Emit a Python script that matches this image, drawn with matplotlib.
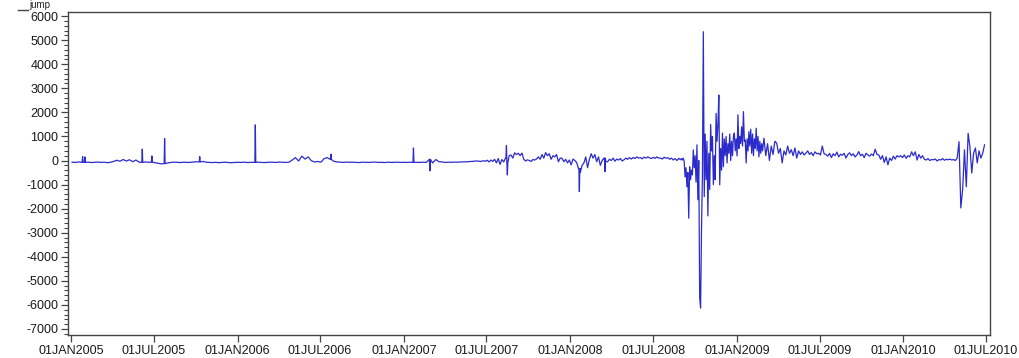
import matplotlib
matplotlib.use("Agg")
import matplotlib.pyplot as plt
from matplotlib.ticker import MultipleLocator, FixedLocator
from matplotlib.lines import Line2D
import pandas as pd

# ---------------- data ----------------
# weekly values, 2005-01-03 .. 2007-06-24
quiet_start = "2005-01-03"
quiet_vals = [
    -70, -80, -60, -75,
    -80, -70, -85, -75, -65, -80, -70, -90, -75,
    -40, 10, -30, 40, -20, 30, -50, 20,
    -70, -80, -60, -75, -70,
    -90, -110, -140, -130, -100,
    -80, -70, -75, -85, -70, -80, -75, -65,
    -50, -60, -40, -70, -80,
    -85, -75, -90, -80, -70, -85, -90, -80,
    # 2006
    -75, -80, -70, -85, -75, -80, -70, -75, -85, -80, -70, -75, -80, -65, -75, -80, -70,
    20, 120, -20, 180, 60, 150, -10,
    -60, -40, -70,
    80, 120, 40, -30,
    -60, -70, -80, -65, -75, -70, -80, -85, -70, -75, -80, -70, -65, -80, -75, -85,
    -70, -80, -75, -70, -80,
    # 2007 H1
    -75, -80, -70, -80,
    -75, -80, -70, -80,
    50, -100, 40, -50, -60,
    -80, -70, -75, -65, -70, -60, -55, -50,
    -40, -30, -20, -40, -10,
]

# every 4 days, 2007-06-29 .. 2008-08-30
unrest_start = "2007-06-29"
unrest_vals = [
    -30, 10, -60, 20, -40,
    50, -100, 80, -160, 40, -60, 100,
    -100, 200,
    230, 100, 320, 250, 300, 200, 310,
    50, -20, 30, 0, -40, 40, 20, 60,
    150, 50, 250, 100, 330, 200, 280, 50, 200, 150, 250, -50, 100,
    90, -50, 50, -100, 20, -180, 60, 0, -80,
    -330, -500, -200,
    -100, 150, -300, 50, 280, 100, 250, -50, 150, -200, 0, 100, -50,
    -50, 50, 0, 100, -30, 60, 20, 80, -20, 30, 100, 50, 120, 60, 130, 80, 150, 100,
    120, 70, 140, 100, 150, 110, 80, 130, 90, 150, 100,
    100, 60, 140, 90, 120, 50, 100, 20, 80, 0, 90, 30,
]

# every 2 days, 2008-09-01 .. 2009-02-27
crisis_start = "2008-09-01"
crisis_vals = [
    80, 20, 100, -50,
    -680, -300, -1090, -500,
    -2400,
    -260, -800, -400, -600,
    440, -300, 200, -900,
    650, -1630, 0,
    -5700, -6130, -2880, -600, 5350,
    -1500, 1100, -800, 800, -2300, 300, -1200,
    1500, 400, 1000, -1000,
    200, -800,
    1960, 800, 1500, 2720,
    -1010, 500, -400,
    1140, -260, 900, 200, 1000, -100, 700, 300, 1100, 0,
    800, 200, 1000,
    1140, 400, 900, 190, 1900, 500, 1000, 700, 1400, 600,
    2030, 800,
    850, -100, 900, 400, 1200, 600,
    1300, 300, 1100, 200, 900, 500, 1340, 400, 1000, 150, 800, 300, 700, 400,
]

# every 4 days, 2009-03-01 .. 2010-06-28
recovery_start = "2009-03-01"
recovery_vals = [
    930, 200, 700, 0, 600, 250, 800,
    720, 300, 500, -100, 400, 230, 600, 300, 450, 200, 520, 100, 400, 250,
    360, 230, 300, 400, 250, 330, 200, 360, 280, 300, 230, 600, 280,
    250, 180, 300, 120, 280, 200, 350, 150, 260, 220, 300, 100, 250, 320, 200, 280,
    150, 230, 370, 200, 260, 120, 300, 230, 180, 270, 200,
    470, 250,
    230, 50, 200, -80, 150, -180, 100, 0, 180, 60, 200,
    150, 200, 120, 230, 90, 200, 150, 360,
    200, 360, 20, 250, 100, 200,
    50, 20, 80, 0, 40, 30, 60, -20, 40, 20, 80, 10, 50, 30, 60, 20, 40,
    0, 100, 780, -1970, -1200, 440, -1090, 1130, 560, -520, 300, 520, -100, 400, 100,
    300, 650,
]

# isolated one-day jumps
spike_dates = ["2005-01-26", "2005-01-31", "2005-06-06", "2005-06-27", "2005-07-25",
               "2005-10-10", "2006-02-09", "2006-07-25", "2007-01-22", "2007-02-27",
               "2007-08-14", "2007-08-16", "2008-01-21", "2008-03-17"]
spike_vals = [160, 150, 470, 190, 910, 160, 1480, 260, 520, -430, 620, -600, -1290, -460]

y_ticks = list(range(-7000, 7000, 1000))
x_tick_dates = ["2005-01-01", "2005-07-01", "2006-01-01", "2006-07-01", "2007-01-01",
                "2007-07-01", "2008-01-01", "2008-07-01", "2009-01-01", "2009-07-01",
                "2010-01-01", "2010-07-01"]

# ---------------- build series ----------------
base = pd.concat([
    pd.Series(quiet_vals, index=pd.date_range(quiet_start, periods=len(quiet_vals), freq="7D")),
    pd.Series(unrest_vals, index=pd.date_range(unrest_start, periods=len(unrest_vals), freq="4D")),
    pd.Series(crisis_vals, index=pd.date_range(crisis_start, periods=len(crisis_vals), freq="2D")),
    pd.Series(recovery_vals, index=pd.date_range(recovery_start, periods=len(recovery_vals), freq="4D")),
]).sort_index().astype(float)

# a spike is a one-day jump: the day before and after sit on the surrounding level
spk_idx = pd.to_datetime(spike_dates)
one = pd.Timedelta(days=1)
shoulders = {}
for d in spk_idx:
    for n in (d - one, d + one):
        if n not in spk_idx:
            shoulders[n] = base.asof(d)
series = pd.concat([base, pd.Series(shoulders, dtype=float),
                    pd.Series(spike_vals, index=spk_idx, dtype=float)])
series = series[~series.index.duplicated(keep="last")].sort_index()

# ---------------- plot ----------------
plt.rcParams["font.family"] = ["Liberation Sans", "DejaVu Sans"]
plt.rcParams["axes.unicode_minus"] = False
fig = plt.figure(figsize=(10.19, 3.58), dpi=100)
ax = fig.add_axes([68 / 1019, 1 - 335 / 358, (990 - 68) / 1019, (335 - 12) / 358])

ax.plot(series.index, series.values, color="#2b2bcc", lw=0.9)

ax.set_ylim(-7250, 6170)
ax.set_xlim(pd.Timestamp("2004-12-25"), pd.Timestamp("2010-07-10"))

ax.yaxis.set_major_locator(FixedLocator(y_ticks))
ax.yaxis.set_minor_locator(MultipleLocator(200))
xt = pd.to_datetime(x_tick_dates)
ax.set_xticks(xt)
ax.set_xticklabels([d.strftime("%d%b%Y").upper() for d in xt])

for s in ax.spines.values():
    s.set_color("#444444")
    s.set_linewidth(1.0)
ax.tick_params(axis="both", which="major", length=5, width=0.9, color="#444444",
               labelsize=9, labelcolor="#1a1a1a", pad=2)
ax.tick_params(axis="y", which="minor", length=3, width=0.8, color="#444444")
ax.tick_params(axis="x", which="minor", length=0)

# small axis title at the very top-left
fig.text(29 / 1019, 1 - 8 / 358, "jump", fontsize=7, color="#222222", va="baseline", ha="left")
fig.add_artist(Line2D([18 / 1019, 28 / 1019], [1 - 10 / 358, 1 - 10 / 358],
                      color="#444444", lw=1.0, transform=fig.transFigure))

fig.savefig("out.png", dpi=100)
